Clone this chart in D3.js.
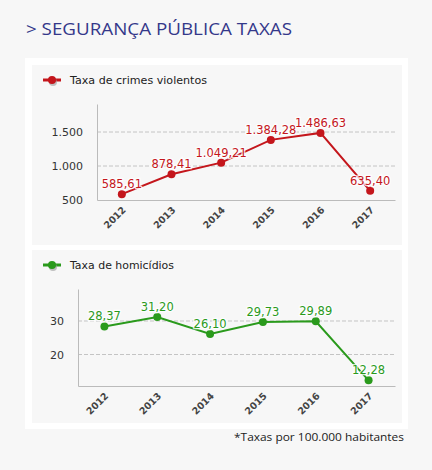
<!DOCTYPE html>
<html><head><meta charset="utf-8">
<script src="https://cdn.jsdelivr.net/npm/d3@7"></script>
<style>
html,body{margin:0;padding:0;background:#f7f7f7;}
svg{display:block;}
</style></head>
<body>
<svg id="c" width="432" height="470"></svg>
<script>
const years = ["2012","2013","2014","2015","2016","2017"];
const crimes = [585.61, 878.41, 1049.21, 1384.28, 1486.63, 635.40];
const homicidios = [28.37, 31.20, 26.10, 29.73, 29.89, 12.28];
const crimesTicks = [500, 1000, 1500];
const homicTicks = [20, 30];
const title = "> SEGURANÇA PÚBLICA TAXAS";
const legend1 = "Taxa de crimes violentos";
const legend2 = "Taxa de homicídios";
const footnote = "*Taxas por 100.000 habitantes";

const svg = d3.select("#c");
const fmt = d3.formatLocale({decimal:",", thousands:".", grouping:[3], currency:["",""]});
const fmtVal = fmt.format(",.2f");
const fmtTick = fmt.format(",d");

svg.append("text").attr("x",26).attr("y",35).text(title)
  .attr("font-family","'Open Sans', sans-serif").attr("font-size",16.5)
  .attr("fill","#34388a").attr("textLength",266).attr("lengthAdjust","spacingAndGlyphs");

svg.append("rect").attr("x",25).attr("y",58).attr("width",383).attr("height",371).attr("fill","#ffffff");
svg.append("rect").attr("x",32).attr("y",65).attr("width",370).attr("height",180).attr("fill","#f7f7f7");
svg.append("rect").attr("x",32).attr("y",250).attr("width",370).attr("height",173).attr("fill","#f7f7f7");

svg.append("text").attr("x",404).attr("y",441).attr("text-anchor","end").text(footnote)
  .attr("font-family","'Open Sans', sans-serif").attr("font-size",10.5).attr("fill","#222")
  .attr("textLength",170).attr("lengthAdjust","spacingAndGlyphs");

function chart(cfg){
  const g = svg.append("g");
  const x = d3.scaleBand().domain(years).range([cfg.x0, cfg.x1]);
  const y = d3.scaleLinear().domain(cfg.domain).range([cfg.yb, cfg.yt]);
  // legend
  g.append("line").attr("x1",43).attr("x2",61).attr("y1",cfg.ly).attr("y2",cfg.ly)
    .attr("stroke",cfg.color).attr("stroke-width",3);
  g.append("circle").attr("cx",53).attr("cy",cfg.ly+2).attr("r",4).attr("fill","#999").attr("opacity",0.6);
  g.append("circle").attr("cx",52).attr("cy",cfg.ly).attr("r",4).attr("fill",cfg.color);
  g.append("text").attr("x",70).attr("y",cfg.ly+4).text(cfg.legend)
    .attr("font-family","'DejaVu Sans', Verdana, sans-serif").attr("font-size",10.5).attr("fill","#222")
    .attr("textLength",cfg.legendW).attr("lengthAdjust","spacingAndGlyphs");
  // grid
  g.selectAll(".grid").data(cfg.ticks.filter(t=>y(t) < cfg.yb-1)).join("line")
    .attr("x1",cfg.x0).attr("x2",cfg.x1).attr("y1",d=>y(d)).attr("y2",d=>y(d))
    .attr("stroke","#c4c4c4").attr("stroke-dasharray","4,2");
  // y axis
  const ya = g.append("g").attr("transform",`translate(${cfg.x0},0)`)
    .call(d3.axisLeft(y).tickValues(cfg.ticks).tickFormat(fmtTick).tickSize(0).tickPadding(14));
  ya.select(".domain").attr("stroke","#bbb");
  ya.selectAll("text").attr("font-family","'DejaVu Sans', Verdana, sans-serif").attr("font-size",11).attr("fill","#333");
  // x axis
  const xa = g.append("g").attr("transform",`translate(0,${cfg.yb})`)
    .call(d3.axisBottom(x).tickSize(0).tickPadding(6));
  xa.select(".domain").attr("stroke","#bbb");
  xa.selectAll("text").attr("font-family","'DejaVu Sans', Verdana, sans-serif").attr("font-size",9.5)
    .attr("font-weight","bold").attr("fill","#444")
    .attr("text-anchor","end").attr("dy","0.35em")
    .attr("transform","translate(-2,4) rotate(-45)");
  // line
  const line = d3.line().x((d,i)=>x(years[i])+x.bandwidth()/2).y(d=>y(d));
  g.append("path").datum(cfg.values).attr("d",line).attr("fill","none")
    .attr("stroke",cfg.color).attr("stroke-width",2);
  g.selectAll(".pt").data(cfg.values).join("circle")
    .attr("cx",(d,i)=>x(years[i])+x.bandwidth()/2).attr("cy",d=>y(d)).attr("r",4).attr("fill",cfg.color);
  g.selectAll(".lbl").data(cfg.values).join("text")
    .attr("x",(d,i)=>x(years[i])+x.bandwidth()/2).attr("y",d=>y(d)-6)
    .attr("text-anchor","middle").text(d=>fmtVal(d))
    .attr("font-family","'DejaVu Sans', Verdana, sans-serif").attr("font-size",11.5)
    .attr("fill",cfg.labelColor).attr("stroke","#ffffff").attr("stroke-width",2.5)
    .attr("paint-order","stroke").attr("stroke-opacity",0.8);
}

chart({x0:97,x1:395,yb:200,yt:104,domain:[500,1912],ticks:crimesTicks,values:crimes,
  color:"#c4161c",labelColor:"#c4161c",ly:80,legend:legend1,legendW:137});
chart({x0:78,x1:395,yb:386,yt:289,domain:[10.6,39.55],ticks:homicTicks,values:homicidios,
  color:"#2a9a1c",labelColor:"#2a9a1c",ly:265,legend:legend2,legendW:104});
</script>
</body></html>
